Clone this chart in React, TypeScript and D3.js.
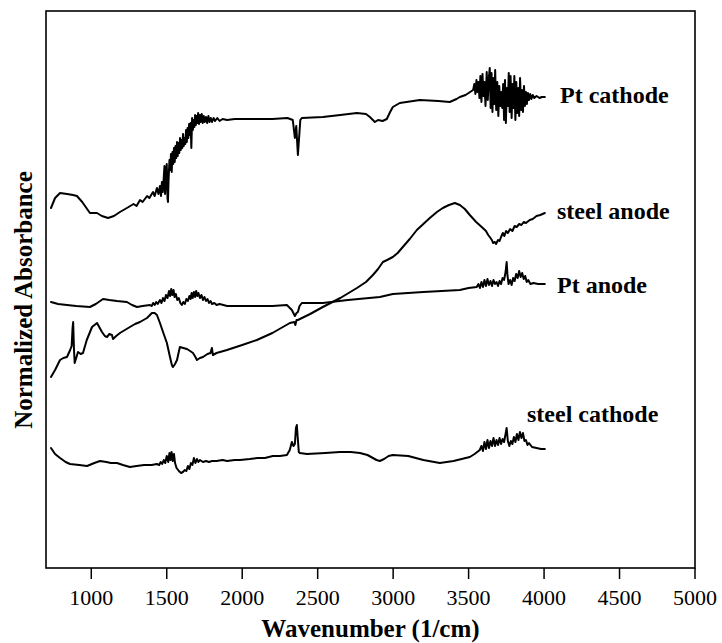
import React from 'react';
import * as d3 from 'd3';

// Wavenumber (1/cm) vs normalized absorbance (arbitrary, stacked units)
const X_DOMAIN: [number, number] = [700, 5000];
const Y_DOMAIN: [number, number] = [0, 5.57];
const X_TICKS = [1000, 1500, 2000, 2500, 3000, 3500, 4000, 4500, 5000];

const ptCathode: [number, number][] = [
  [733,3.60],[760,3.70],[793,3.75],[840,3.74],[879,3.73],[905,3.72],[940,3.66],[991,3.55],[1038,3.55],[1070,3.52],
  [1111,3.50],[1150,3.52],[1190,3.56],[1236,3.60],[1280,3.64],[1300,3.62],[1323,3.68],[1340,3.66],[1370,3.72],[1385,3.70],
  [1409,3.76],[1420,3.72],[1435,3.80],[1445,3.74],
  [1455,3.82],[1462,3.72],[1468,3.86],[1474,3.76],[1480,3.90],[1485,4.02],[1489,3.74],[1494,3.92],[1500,4.04],[1505,3.70],
  [1508,3.66],[1512,3.88],[1518,4.08],[1523,3.98],[1528,4.14],[1533,3.96],[1538,4.16],[1543,4.04],[1548,4.20],[1553,4.06],
  [1558,4.22],[1563,4.10],[1568,4.26],[1573,4.12],[1578,4.25],[1583,4.15],[1588,4.30],[1593,4.18],[1598,4.28],[1603,4.20],
  [1608,4.34],[1613,4.22],[1618,4.30],[1623,4.24],[1628,4.38],[1633,4.26],[1638,4.40],[1643,4.30],[1648,4.44],[1653,4.33],
  [1658,4.45],[1663,4.20],[1668,4.50],[1673,4.38],[1678,4.48],[1683,4.41],[1688,4.53],[1693,4.43],[1698,4.52],[1703,4.45],
  [1708,4.55],[1714,4.44],[1720,4.53],[1726,4.46],[1732,4.54],[1738,4.45],[1745,4.52],[1752,4.46],[1760,4.51],[1768,4.45],
  [1776,4.52],[1784,4.46],[1792,4.50],[1800,4.46],[1810,4.50],[1820,4.47],[1835,4.50],[1850,4.47],[1870,4.49],[1900,4.48],
  [1950,4.49],[2000,4.49],[2100,4.49],[2200,4.49],[2300,4.50],[2335,4.48],
  [2349,4.30],[2358,4.42],[2369,4.13],[2385,4.48],[2395,4.50],[2534,4.51],[2650,4.53],[2760,4.55],[2820,4.54],[2846,4.51],
  [2879,4.46],[2900,4.48],[2930,4.47],[2958,4.49],[2980,4.56],[2998,4.61],[3044,4.65],[3177,4.68],[3300,4.67],[3375,4.66],
  [3420,4.69],[3442,4.71],[3480,4.73],[3500,4.75],[3520,4.77],
  [3530,4.78],[3538,4.84],[3545,4.74],[3552,4.88],[3558,4.76],[3565,4.86],[3572,4.70],[3578,4.92],[3585,4.66],[3592,4.94],
  [3598,4.72],[3605,4.86],[3612,4.62],[3620,4.96],[3627,4.68],[3633,4.88],[3640,5.00],[3646,4.60],[3652,4.95],[3658,4.56],
  [3664,4.90],[3670,4.64],[3676,4.98],[3683,4.58],[3690,4.86],[3697,4.52],[3703,4.82],[3710,4.62],[3716,4.76],[3723,4.60],
  [3729,4.84],[3735,4.48],[3741,4.88],[3747,4.45],[3753,4.80],[3760,4.62],[3766,4.95],[3772,4.56],[3778,4.92],[3785,4.50],
  [3791,4.84],[3797,4.60],[3803,4.92],[3810,4.48],[3816,4.86],[3822,4.55],[3829,4.80],[3835,4.52],[3841,4.90],[3848,4.58],
  [3854,4.78],[3860,4.56],[3867,4.82],[3873,4.62],[3880,4.76],[3886,4.64],[3893,4.75],[3900,4.68],[3908,4.74],[3916,4.69],
  [3925,4.73],[3935,4.70],[3950,4.72],[3970,4.70],[3985,4.71],[4005,4.71]
];

const steelAnode: [number, number][] = [
  [733,1.91],[760,1.98],[793,2.08],[815,2.10],[839,2.11],[860,2.18],[870,2.22],[876,2.40],[880,2.46],[885,2.20],
  [890,2.05],[900,2.10],[912,2.16],[930,2.14],[945,2.15],[970,2.28],[1005,2.41],[1038,2.45],[1071,2.36],[1090,2.32],
  [1104,2.31],[1120,2.34],[1137,2.33],[1144,2.29],[1165,2.32],[1190,2.35],[1256,2.41],[1290,2.44],[1323,2.46],[1369,2.50],
  [1402,2.55],[1420,2.55],[1435,2.53],[1455,2.45],[1480,2.34],[1501,2.25],[1520,2.12],[1534,2.03],[1541,2.01],[1555,2.04],
  [1568,2.08],[1587,2.21],[1610,2.20],[1634,2.19],[1655,2.17],[1674,2.15],[1690,2.11],[1700,2.08],[1720,2.10],[1740,2.11],
  [1770,2.14],[1790,2.15],[1799,2.20],[1806,2.13],[1830,2.15],[1899,2.18],[2000,2.23],[2097,2.28],[2200,2.35],[2316,2.45],
  [2345,2.46],[2352,2.43],[2360,2.48],[2369,2.48],[2450,2.54],[2534,2.61],[2650,2.70],[2760,2.80],[2820,2.86],[2866,2.93],
  [2900,2.99],[2932,3.06],[2960,3.08],[2998,3.11],[3030,3.15],[3064,3.21],[3110,3.29],[3157,3.38],[3200,3.44],[3243,3.50],
  [3290,3.56],[3329,3.60],[3370,3.63],[3409,3.65],[3442,3.63],[3475,3.59],[3508,3.53],[3550,3.46],[3594,3.40],[3615,3.37],
  [3630,3.33],[3645,3.30],[3654,3.28],[3662,3.25],[3674,3.26],[3682,3.24],[3695,3.28],[3705,3.27],[3715,3.31],[3727,3.35],
  [3737,3.32],[3748,3.37],[3760,3.35],[3775,3.39],[3790,3.37],[3805,3.42],[3819,3.41],[3835,3.44],[3850,3.43],[3865,3.46],
  [3880,3.45],[3905,3.48],[3925,3.49],[3950,3.52],[3975,3.53],[4005,3.55]
];

const ptAnode: [number, number][] = [
  [733,2.66],[780,2.64],[839,2.63],[900,2.62],[991,2.61],[1030,2.64],[1078,2.69],[1120,2.68],[1170,2.67],[1236,2.66],
  [1270,2.63],[1303,2.61],[1340,2.62],[1389,2.63],[1400,2.62],[1410,2.65],[1420,2.63],[1430,2.66],[1440,2.64],[1455,2.68],
  [1465,2.65],[1475,2.70],[1485,2.67],[1495,2.73],[1505,2.70],[1515,2.77],[1522,2.72],[1530,2.79],[1537,2.73],[1545,2.78],
  [1552,2.71],[1560,2.74],[1570,2.68],[1580,2.70],[1590,2.65],[1600,2.63],[1610,2.66],[1620,2.64],[1630,2.69],[1640,2.67],
  [1650,2.72],[1658,2.69],[1665,2.75],[1672,2.70],[1680,2.76],[1688,2.71],[1695,2.77],[1703,2.72],[1710,2.75],[1720,2.70],
  [1730,2.73],[1740,2.68],[1750,2.71],[1760,2.67],[1770,2.69],[1780,2.65],[1790,2.67],[1800,2.64],[1815,2.65],[1830,2.63],
  [1850,2.64],[1900,2.62],[1985,2.62],[2100,2.62],[2200,2.62],[2296,2.63],[2329,2.58],[2349,2.52],[2360,2.55],[2369,2.56],
  [2380,2.62],[2395,2.65],[2534,2.65],[2700,2.68],[2912,2.71],[2998,2.74],[3200,2.76],[3442,2.78],[3500,2.80],[3554,2.81],
  [3565,2.84],[3575,2.80],[3585,2.86],[3595,2.81],[3605,2.88],[3615,2.82],[3625,2.89],[3635,2.83],[3645,2.87],[3655,2.82],
  [3665,2.88],[3675,2.84],[3685,2.86],[3695,2.82],[3705,2.87],[3715,2.84],[3725,2.90],[3735,2.88],[3745,2.96],[3752,3.06],
  [3758,2.92],[3765,2.84],[3775,2.88],[3785,2.83],[3795,2.90],[3805,2.87],[3815,2.94],[3825,2.90],[3835,2.97],[3845,2.91],
  [3855,2.95],[3865,2.89],[3875,2.92],[3885,2.86],[3895,2.88],[3910,2.84],[3930,2.85],[3960,2.84],[4005,2.84]
];

const steelCathode: [number, number][] = [
  [733,1.20],[760,1.14],[793,1.10],[830,1.06],[859,1.04],[920,1.03],[972,1.02],[1020,1.05],[1058,1.07],[1100,1.06],
  [1130,1.05],[1170,1.05],[1210,1.03],[1256,1.01],[1300,1.02],[1350,1.03],[1400,1.03],[1435,1.04],[1450,1.03],[1460,1.06],
  [1470,1.04],[1480,1.08],[1490,1.05],[1500,1.12],[1510,1.06],[1518,1.15],[1525,1.08],[1532,1.16],[1540,1.07],[1548,1.14],
  [1555,1.05],[1565,1.00],[1580,0.97],[1595,0.95],[1607,0.96],[1620,0.98],[1630,0.97],[1640,1.02],[1650,0.99],[1660,1.05],
  [1670,1.03],[1680,1.10],[1690,1.05],[1700,1.09],[1710,1.06],[1720,1.08],[1740,1.06],[1760,1.07],[1780,1.06],[1800,1.07],
  [1830,1.07],[1870,1.08],[1900,1.07],[1950,1.08],[1985,1.08],[2050,1.09],[2100,1.10],[2150,1.10],[2203,1.12],[2250,1.12],
  [2296,1.13],[2315,1.18],[2329,1.26],[2340,1.22],[2349,1.24],[2356,1.40],[2362,1.43],[2368,1.30],[2375,1.16],[2382,1.15],
  [2429,1.14],[2550,1.15],[2647,1.16],[2720,1.16],[2780,1.15],[2830,1.13],[2866,1.10],[2890,1.08],[2912,1.07],[2940,1.09],
  [2970,1.12],[2998,1.13],[3100,1.12],[3200,1.08],[3309,1.05],[3400,1.07],[3508,1.11],[3540,1.14],[3574,1.18],
  [3585,1.22],[3595,1.17],[3605,1.26],[3615,1.19],[3625,1.28],[3635,1.20],[3645,1.27],[3655,1.22],[3665,1.30],[3675,1.22],
  [3685,1.28],[3695,1.23],[3705,1.30],[3715,1.24],[3725,1.29],[3735,1.26],[3745,1.34],[3752,1.40],[3760,1.27],[3770,1.22],
  [3780,1.27],[3790,1.24],[3800,1.31],[3810,1.26],[3820,1.34],[3830,1.28],[3840,1.36],[3850,1.30],[3860,1.35],[3870,1.27],
  [3880,1.28],[3890,1.23],[3900,1.25],[3920,1.21],[3950,1.20],[3980,1.19],[4005,1.19]
];

const SERIES_NAMES = ['Pt cathode', 'steel anode', 'Pt anode', 'steel cathode'];
const SERIES_DATA = [ptCathode, steelAnode, ptAnode, steelCathode];

const W = 722, H = 643;
const M = { left: 46, right: 695, top: 11, bottom: 568 };
const LABEL_POS = [
  { x: 560, y: 103 },
  { x: 557, y: 219 },
  { x: 557, y: 293 },
  { x: 527, y: 422 },
];

export default function App() {
  const x = d3.scaleLinear().domain(X_DOMAIN).range([M.left, M.right]);
  const y = d3.scaleLinear().domain(Y_DOMAIN).range([M.bottom, M.top]);
  const line = d3.line<[number, number]>().x(d => x(d[0])).y(d => y(d[1]));
  const font = '"Liberation Serif", "Times New Roman", serif';

  return (
    <svg width={W} height={H} style={{ position: 'absolute', left: 0, top: 0, background: '#fff' }}
      fontFamily={font}>
      <rect x={0} y={0} width={W} height={H} fill="#fff" />
      {SERIES_DATA.map((s, i) => (
        <path key={i} d={line(s) || ''} fill="none" stroke="#000" strokeWidth={2}
          strokeLinejoin="round" strokeLinecap="round" />
      ))}
      <rect x={M.left} y={M.top} width={M.right - M.left} height={M.bottom - M.top}
        fill="none" stroke="#000" strokeWidth={1.6} />
      {X_TICKS.map(t => (
        <g key={t}>
          <line x1={x(t)} x2={x(t)} y1={M.bottom} y2={M.bottom + 11} stroke="#000" strokeWidth={1.5} />
          <text x={x(t)} y={605} textAnchor="middle" fontSize={22}>{t}</text>
        </g>
      ))}
      <text x={(M.left + M.right) / 2} y={637} textAnchor="middle" fontSize={25} fontWeight="bold">
        Wavenumber (1/cm)
      </text>
      <text transform="translate(32, 300) rotate(-90)" textAnchor="middle"
        fontSize={25} fontWeight="bold">Normalized Absorbance</text>
      {SERIES_NAMES.map((n, i) => (
        <text key={n} x={LABEL_POS[i].x} y={LABEL_POS[i].y} fontSize={24} fontWeight="bold">{n}</text>
      ))}
    </svg>
  );
}
